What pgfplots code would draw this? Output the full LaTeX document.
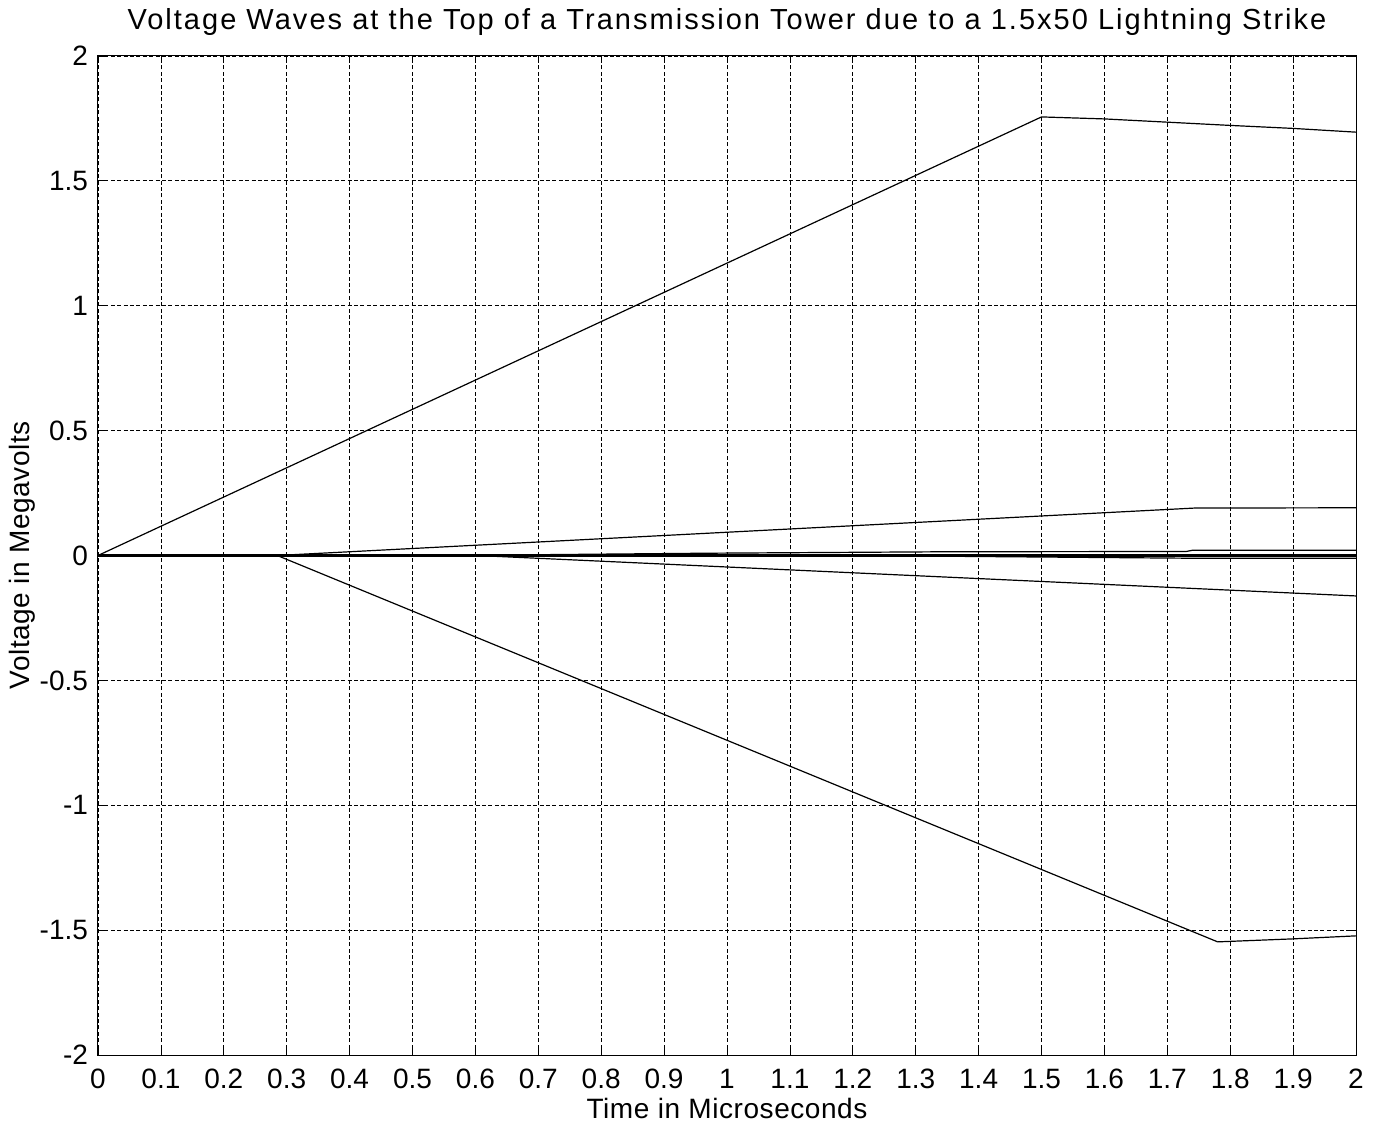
\documentclass[border=0pt]{standalone}
\usepackage{pgfplots}
\pgfplotsset{compat=1.18}
\usepackage{fontspec}
\setmainfont{Liberation Sans}
\begin{document}
\begin{tikzpicture}
\begin{axis}[
    scale only axis,
    width=629pt,
    height=499.5pt,
    xmin=0, xmax=2,
    ymin=-2, ymax=2,
    xtick={0,0.1,...,2.01},
    ytick={-2,-1.5,...,2},
    /pgf/number format/assume math mode=true,
    xticklabel style={/pgf/number format/fixed, /pgf/number format/precision=1, yshift=-3.5pt},
    yticklabel style={/pgf/number format/fixed, /pgf/number format/precision=1, xshift=-1.5pt},
    tick label style={font=\fontsize{14}{16}\selectfont},
    label style={font=\fontsize{14}{16}\selectfont\addfontfeatures{LetterSpace=2}},
    title style={font=\fontsize{14.5}{16}\selectfont\addfontfeatures{LetterSpace=7},
                 at={(axis description cs:0.5,1)}, anchor=center, yshift=11pt},
    title={Voltage Waves at the Top of a Transmission Tower due to a 1.5x50 Lightning Strike},
    xlabel={Time in Microseconds},
    ylabel={Voltage in Megavolts},
    xlabel style={at={(axis description cs:0.5,0)}, anchor=center, yshift=-26.5pt},
    ylabel style={at={(axis description cs:0,0.5)}, anchor=center, yshift=38pt},
    grid=major,
    grid style={black, line width=0.4pt, dash pattern=on 2pt off 1.2pt},
    major tick length=3pt,
    tick style={black, line width=0.4pt},
    axis line style={line width=0.5pt},
    cycle list={{black, mark=none, solid}},
    every axis plot/.append style={line width=0.6pt},
]
\addplot coordinates {(0,0) (1.5,1.756) (1.6,1.748) (1.7,1.735) (1.8,1.722) (1.9,1.71) (2,1.695)};
\addplot coordinates {(0,0) (0.285,0) (1.78,-1.547) (1.9,-1.535) (2,-1.523)};
\addplot coordinates {(0,0) (0.285,0) (1.744,0.19) (2,0.191)};
\addplot coordinates {(0,0) (0.603,0) (2,-0.162)};
\addplot coordinates {(0,0) (0.56,0) (0.96,0.009) (1.35,0.015) (1.73,0.016) (1.74,0.021) (2,0.021)};
\addplot coordinates {(0,0) (1.2,0) (1.74,-0.011) (2,-0.011)};
\addplot[line width=1.3pt] coordinates {(0,0) (2,0)};
\end{axis}
\path ([shift={(-49pt,-34.5pt)}]current axis.south west) rectangle ([shift={(11pt,28pt)}]current axis.north east);
\end{tikzpicture}
\end{document}
